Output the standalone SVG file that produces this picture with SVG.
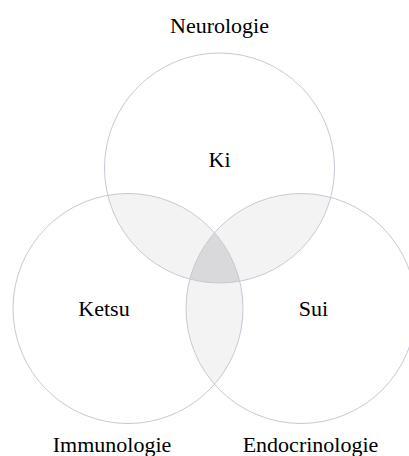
<svg xmlns="http://www.w3.org/2000/svg" width="409" height="456" viewBox="0 0 409 456">
<style>
  .ring { fill: none; stroke: #c8c8d6; stroke-width: 1; }
  .pair { fill: #f3f3f4; }
  .triple { fill: #d9d9db; }
  .lbl { font-size: 22px; fill: #000; text-anchor: middle; }
</style>
<defs>
  <clipPath id="cT"><circle cx="219.5" cy="168" r="115"/></clipPath>
  <clipPath id="cL"><circle cx="128" cy="308.5" r="115"/></clipPath>
  <clipPath id="cTL"><circle cx="128" cy="308.5" r="115" clip-path="url(#cT)"/></clipPath>
</defs>
<rect width="409" height="456" fill="#ffffff"/>
<g id="overlaps">
  <circle class="pair" cx="128" cy="308.5" r="115" clip-path="url(#cT)"/>
  <circle class="pair" cx="301" cy="308.5" r="115" clip-path="url(#cT)"/>
  <circle class="pair" cx="301" cy="308.5" r="115" clip-path="url(#cL)"/>
  <circle class="triple" cx="301" cy="308.5" r="115" clip-path="url(#cTL)"/>
</g>
<g id="ki" font-family="'Liberation Serif', 'DejaVu Serif', serif">
  <circle class="ring" cx="219.5" cy="168" r="115"/>
  <text class="lbl" x="219.5" y="167">Ki</text>
  <text class="lbl" x="219.5" y="33">Neurologie</text>
</g>
<g id="ketsu" font-family="'Liberation Serif', 'DejaVu Serif', serif">
  <circle class="ring" cx="128" cy="308.5" r="115"/>
  <text class="lbl" x="104" y="316">Ketsu</text>
  <text class="lbl" x="112" y="452">Immunologie</text>
</g>
<g id="sui" font-family="'Liberation Serif', 'DejaVu Serif', serif">
  <circle class="ring" cx="301" cy="308.5" r="115"/>
  <text class="lbl" x="313.5" y="316">Sui</text>
  <text class="lbl" x="310.5" y="452">Endocrinologie</text>
</g>
<g id="connectors"/>
</svg>
